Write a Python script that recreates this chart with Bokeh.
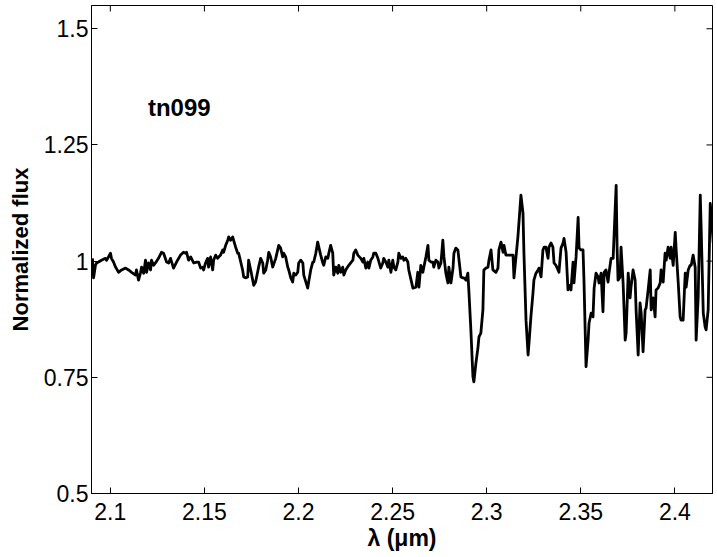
import math
from bokeh.plotting import figure
from bokeh.models import Range1d, FixedTicker, Label
from bokeh.embed import file_html
from bokeh.resources import INLINE

# ---------------- data ----------------
wavelength_um = [
    2.0905, 2.0911, 2.0921, 2.0927, 2.0937, 2.0953, 2.0974, 2.0980, 2.0990, 2.1001,
    2.1006, 2.1017, 2.1028, 2.1044, 2.1060, 2.1081, 2.1097, 2.1113, 2.1134, 2.1139,
    2.1150, 2.1161, 2.1166, 2.1177, 2.1187, 2.1193, 2.1203, 2.1214, 2.1219, 2.1230,
    2.1240, 2.1256, 2.1272, 2.1283, 2.1299, 2.1310, 2.1320, 2.1336, 2.1352, 2.1373,
    2.1389, 2.1400, 2.1405, 2.1416, 2.1427, 2.1443, 2.1459,
    2.1469, 2.1480, 2.1491, 2.1496, 2.1506, 2.1517, 2.1522, 2.1533, 2.1544, 2.1549,
    2.1560, 2.1570, 2.1576, 2.1586, 2.1597, 2.1602, 2.1613, 2.1624, 2.1629, 2.1639,
    2.1650, 2.1655, 2.1666, 2.1677, 2.1682, 2.1693, 2.1703, 2.1709, 2.1719, 2.1730,
    2.1735, 2.1746, 2.1762, 2.1772, 2.1788, 2.1799, 2.1810, 2.1815, 2.1826, 2.1836,
    2.1842, 2.1852, 2.1863, 2.1879, 2.1895, 2.1905, 2.1916, 2.1921, 2.1932, 2.1943,
    2.1948, 2.1959, 2.1969, 2.1975, 2.1985, 2.1996, 2.2001,
    2.2012, 2.2023, 2.2028, 2.2049, 2.2054, 2.2065, 2.2076, 2.2081, 2.2092, 2.2102,
    2.2108, 2.2118, 2.2129, 2.2134, 2.2145, 2.2156, 2.2161, 2.2171, 2.2182, 2.2187,
    2.2198, 2.2209, 2.2214, 2.2225, 2.2235, 2.2241, 2.2251, 2.2267, 2.2289, 2.2294,
    2.2304, 2.2315, 2.2331, 2.2342, 2.2347, 2.2358, 2.2368, 2.2374, 2.2384, 2.2395,
    2.2400, 2.2411, 2.2422, 2.2437, 2.2448, 2.2453, 2.2464, 2.2475, 2.2480, 2.2491,
    2.2501, 2.2507, 2.2517, 2.2528, 2.2533, 2.2544, 2.2554, 2.2560,
    2.2570, 2.2581, 2.2586, 2.2608, 2.2624, 2.2634, 2.2640, 2.2650, 2.2661, 2.2666,
    2.2677, 2.2688, 2.2693, 2.2704, 2.2714, 2.2719, 2.2730, 2.2741, 2.2746, 2.2757,
    2.2767, 2.2773, 2.2783, 2.2794, 2.2799, 2.2810, 2.2821, 2.2826, 2.2836, 2.2847,
    2.2852, 2.2863, 2.2874, 2.2879, 2.2890, 2.2900, 2.2906, 2.2916, 2.2927, 2.2932,
    2.2943, 2.2954, 2.2959, 2.2969, 2.2980, 2.2985, 2.2996, 2.3007, 2.3012, 2.3023,
    2.3033, 2.3049, 2.3060, 2.3065, 2.3076, 2.3087, 2.3092, 2.3102, 2.3118,
    2.3129, 2.3140, 2.3145, 2.3166, 2.3182, 2.3193, 2.3198, 2.3209, 2.3220, 2.3225,
    2.3235, 2.3246, 2.3251, 2.3262, 2.3273, 2.3278, 2.3289, 2.3299, 2.3305, 2.3315,
    2.3326, 2.3331, 2.3342, 2.3352, 2.3358, 2.3368, 2.3379, 2.3384, 2.3395, 2.3406,
    2.3411, 2.3422, 2.3432, 2.3438, 2.3448, 2.3459, 2.3464, 2.3475, 2.3486, 2.3491,
    2.3501, 2.3512, 2.3517, 2.3528, 2.3539, 2.3544, 2.3555, 2.3565, 2.3571, 2.3581,
    2.3592, 2.3597, 2.3608, 2.3618, 2.3624, 2.3634, 2.3645, 2.3650, 2.3661, 2.3672,
    2.3688, 2.3693, 2.3698, 2.3709, 2.3714, 2.3725, 2.3736, 2.3741, 2.3752, 2.3762,
    2.3767, 2.3778, 2.3789, 2.3794, 2.3805, 2.3815, 2.3821, 2.3831, 2.3842, 2.3847,
    2.3858, 2.3869, 2.3874, 2.3885, 2.3895, 2.3900, 2.3911, 2.3922, 2.3927, 2.3938,
    2.3948, 2.3954, 2.3964, 2.3975, 2.3980, 2.3991, 2.4002, 2.4007, 2.4018, 2.4028,
    2.4033, 2.4044, 2.4055, 2.4060, 2.4071, 2.4081, 2.4087, 2.4097, 2.4108, 2.4113,
    2.4124, 2.4135, 2.4140, 2.4151, 2.4161, 2.4166, 2.4177, 2.4188, 2.4193, 2.4204,
]

flux = [
    1.006, 0.964, 0.991, 0.996, 0.998, 1.002, 1.006, 1.002, 1.009, 1.017,
    1.006, 0.998, 0.987, 0.976, 0.981, 0.985, 0.981, 0.976, 0.970, 0.981,
    0.959, 0.976, 0.987, 0.974, 1.002, 0.976, 0.996, 0.981, 1.002, 0.991,
    0.996, 1.006, 1.019, 1.017, 0.998, 0.996, 1.006, 0.985, 0.998, 1.013,
    1.019, 1.017, 1.019, 1.002, 1.009, 0.996, 0.998,
    0.998, 0.985, 0.987, 0.981, 0.996, 1.006, 0.987, 1.009, 0.981, 1.002,
    1.013, 1.006, 1.009, 1.013, 1.024, 1.019, 1.034, 1.045, 1.052, 1.045,
    1.052, 1.045, 1.030, 1.017, 1.017, 0.998, 0.981, 0.966, 0.964, 0.966,
    1.002, 0.981, 0.948, 0.955, 0.987, 1.006, 0.996, 0.974, 0.981, 1.002,
    1.019, 1.009, 0.987, 1.006, 1.034, 1.028, 1.009, 1.017, 1.009, 0.987,
    0.981, 0.964, 0.955, 0.974, 0.970, 0.976, 0.996,
    1.002, 0.996, 0.970, 0.942, 0.955, 0.981, 0.998, 0.998, 1.017, 1.041,
    1.030, 1.013, 0.996, 0.991, 1.009, 1.006, 1.017, 1.034, 1.017, 0.970,
    0.987, 0.974, 0.991, 0.976, 0.987, 0.970, 0.981, 0.991, 1.002, 1.017,
    1.024, 1.013, 1.006, 0.998, 1.006, 0.985, 0.998, 0.985, 1.002, 1.009,
    1.017, 1.017, 1.006, 0.985, 0.996, 1.006, 0.998, 0.987, 1.002, 0.976,
    1.002, 0.987, 0.981, 0.998, 1.017, 1.006, 1.009, 1.002,
    1.006, 0.998, 0.981, 0.942, 0.944, 0.976, 0.944, 0.991, 0.976, 0.987,
    1.009, 1.034, 1.002, 0.998, 0.998, 0.987, 1.002, 0.998, 0.985, 0.996,
    1.045, 1.009, 0.974, 0.953, 0.987, 0.953, 0.985, 1.017, 1.028, 1.024,
    1.006, 0.966, 0.964, 0.964, 0.959, 0.974, 0.931, 0.852, 0.751, 0.740,
    0.781, 0.815, 0.837, 0.845, 0.895, 0.981, 0.985, 0.987, 1.002, 1.024,
    0.981, 0.976, 0.985, 1.024, 1.041, 1.019, 1.034, 1.013, 1.013,
    1.013, 1.013, 0.964, 1.052, 1.142, 1.103, 1.017, 0.873, 0.798, 0.824,
    0.880, 0.931, 0.959, 0.974, 0.981, 0.985, 0.966, 1.024, 1.030, 1.030,
    1.006, 1.030, 1.039, 1.030, 0.996, 0.991, 0.981, 0.976, 1.028, 1.039,
    1.049, 1.019, 0.938, 0.948, 0.938, 0.998, 0.953, 1.009, 1.094, 1.028,
    1.024, 1.024, 0.959, 0.773, 0.830, 0.867, 0.888, 0.880, 0.942, 0.974,
    0.966, 0.953, 0.974, 0.891, 0.976, 0.981, 0.955, 0.974, 1.006, 1.006,
    1.163, 1.030, 0.959, 0.966, 1.030, 0.953, 0.830, 0.845, 0.974, 0.921,
    0.944, 0.981, 0.959, 0.895, 0.798, 0.910, 0.888, 0.805, 0.895, 0.899,
    0.938, 0.981, 0.895, 0.921, 0.880, 0.938, 0.942, 0.953, 0.981, 0.955,
    1.017, 1.002, 1.030, 1.006, 1.030, 0.991, 1.062, 1.024, 0.953, 0.880,
    0.873, 0.873, 0.974, 0.944, 0.981, 0.991, 0.991, 1.013, 0.987, 0.830,
    0.923, 1.142, 1.067, 0.888, 0.858, 0.852, 0.895, 1.124, 1.103, 1.039,
]

x_ticks = [2.1, 2.15, 2.2, 2.25, 2.3, 2.35, 2.4]
x_tick_labels = ["2.1", "2.15", "2.2", "2.25", "2.3", "2.35", "2.4"]
y_ticks = [0.5, 0.75, 1.0, 1.25, 1.5]
y_tick_labels = ["0.5", "0.75", "1", "1.25", "1.5"]

x_limits = (2.09, 2.42)
y_limits = (0.5, 1.55)

star_name = "tn099"
x_title = "λ (μm)"
y_title = "Normalized flux"

FONT = "Liberation Sans"

# ---------------- figure ----------------
p = figure(width=717, height=557, output_backend="svg", toolbar_location=None,
           x_range=Range1d(*x_limits), y_range=Range1d(*y_limits),
           min_border_left=91, min_border_right=5, min_border_top=5,
           min_border_bottom=64)
p.grid.visible = False
p.outline_line_color = "black"
p.outline_line_width = 1
p.background_fill_color = "white"
p.border_fill_color = "white"

p.line(wavelength_um, flux, line_color="black", line_width=2.8, line_join="round")

def style_axis(ax, ticks, labels):
    ax.ticker = FixedTicker(ticks=ticks)
    ax.major_tick_in = 6
    ax.major_tick_out = 0
    ax.minor_tick_in = 0
    ax.minor_tick_out = 0
    ax.major_tick_line_color = "black"
    ax.axis_line_color = "black"
    ax.major_label_overrides = dict(zip(ticks, labels))
    ax.major_label_text_font = FONT
    ax.major_label_text_font_size = "23px"
    ax.major_label_text_color = "black"
    ax.axis_label_text_font = FONT
    ax.axis_label_text_font_style = "bold"
    ax.axis_label_text_color = "black"

xa = p.xaxis[0]
style_axis(xa, x_ticks, x_tick_labels)
xa.axis_label = x_title
xa.axis_label_text_font_size = "23px"
xa.major_label_standoff = 9
xa.axis_label_standoff = 2

ya = p.yaxis[0]
style_axis(ya, y_ticks, y_tick_labels)
ya.axis_label = y_title
ya.axis_label_text_font_size = "22px"
ya.major_label_standoff = 3
ya.axis_label_standoff = 8

# inward tick marks on the top and right edges of the box
p.scatter(x_ticks, [y_limits[1]] * len(x_ticks), marker="dash", angle=math.pi / 2,
          size=12, line_color="black", line_width=1)
p.scatter([x_limits[1]] * len(y_ticks), y_ticks, marker="dash",
          size=12, line_color="black", line_width=1)

p.add_layout(Label(x=2.12, y=1.33, text=star_name, text_font=FONT,
                   text_font_size="24px", text_font_style="bold",
                   text_color="black", text_baseline="alphabetic"))

open("out.html", "w").write(file_html(p, INLINE))
